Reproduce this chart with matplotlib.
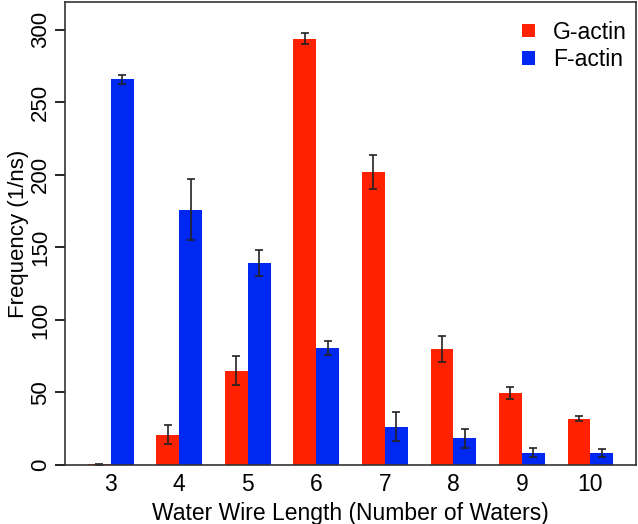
import numpy as np
import matplotlib.pyplot as plt

plt.rcParams["font.family"] = ["Liberation Sans", "DejaVu Sans"]

# --- Data -----------------------------------------------------------------
lengths = [3, 4, 5, 6, 7, 8, 9, 10]
g_actin = [0.5, 21, 65, 294, 202, 80, 49.5, 32]
g_err = [0.5, 6.5, 10, 4, 12, 8.7, 4, 2]
f_actin = [266, 176, 139.5, 80.5, 26.5, 18.5, 8.5, 8.3]
f_err = [3, 21, 9, 5, 10, 6.5, 3, 3]

red = "#ff2200"
blue = "#0028f0"

# --- Plot -----------------------------------------------------------------
fig = plt.figure(figsize=(6.38, 5.24), dpi=100)
ax = fig.add_axes([0.102, 0.1126, 0.895, 0.883])

centers = np.arange(len(lengths)) * 3.0
ekw = dict(ecolor="#222222", elinewidth=1.2, capsize=3, capthick=1.2)
ax.bar(centers - 0.5, g_actin, width=1.0, color=red, label="G-actin",
       yerr=g_err, error_kw=ekw)
ax.bar(centers + 0.5, f_actin, width=1.0, color=blue, label="F-actin",
       yerr=f_err, error_kw=ekw)

ax.set_xlim(-2, centers[-1] + 2)
ax.set_ylim(0, 319)
ax.set_xticks(centers)
ax.set_xticklabels([str(v) for v in lengths])
ax.set_yticks([0, 50, 100, 150, 200, 250, 300])
ax.tick_params(axis="x", length=0, pad=6, labelsize=16.5)
ax.tick_params(axis="y", length=7, width=1.2, labelsize=16, pad=3)
for lab in ax.get_yticklabels():
    lab.set_rotation(90)
    lab.set_va("center")

for s in ax.spines.values():
    s.set_linewidth(1.2)
    s.set_color("#333333")

ax.set_xlabel("Water Wire Length (Number of Waters)", fontsize=16.5, labelpad=4)
ax.set_ylabel("Frequency (1/ns)", fontsize=16, labelpad=1)

ax.legend(loc="upper right", bbox_to_anchor=(1.012, 0.995), frameon=False,
          fontsize=16.5, handlelength=0.55, handleheight=0.55,
          handletextpad=0.8, labelspacing=0.2, borderaxespad=0.3)

fig.savefig("out.png", dpi=100)
